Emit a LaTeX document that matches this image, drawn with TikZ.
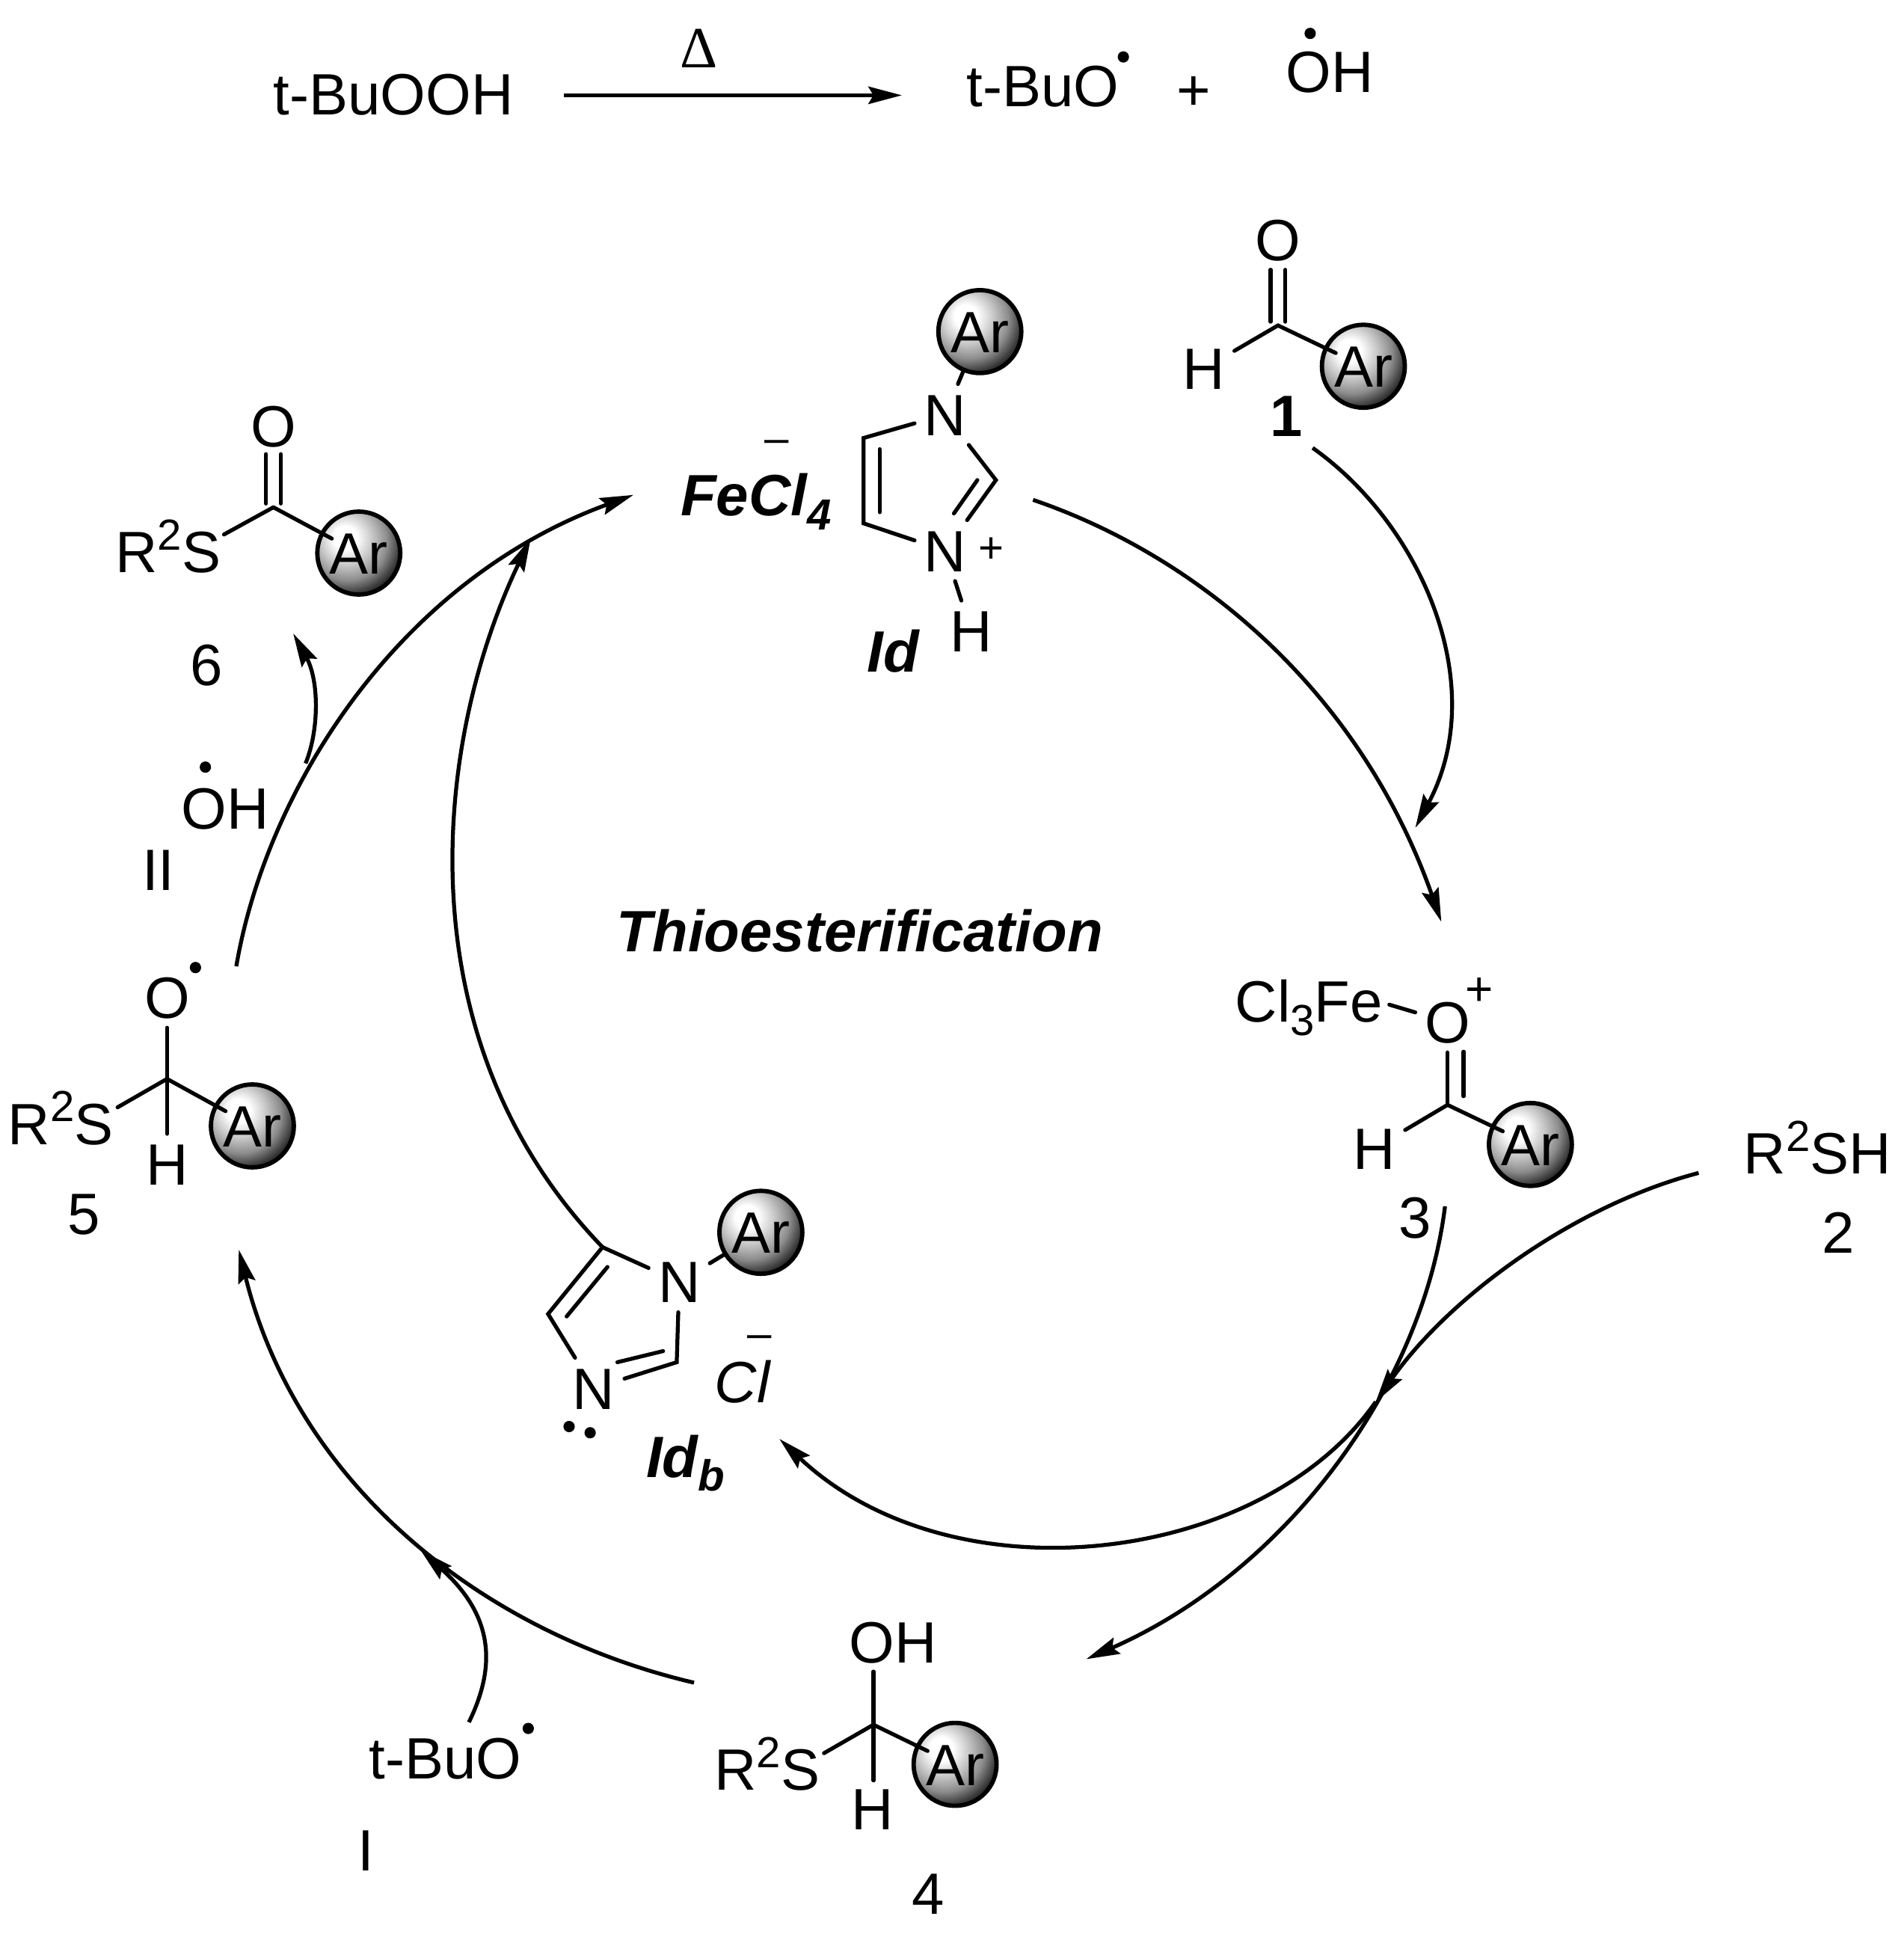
\documentclass[tikz,border=0pt]{standalone}
\usepackage{fontspec}
\setmainfont{Liberation Sans}
\newfontfamily\deltafont{Liberation Serif}
\usetikzlibrary{arrows.meta}
\newcommand{\supnum}[1]{\raisebox{5.2pt}{\fontsize{10}{10}\selectfont #1}}
\newcommand{\subnum}[1]{\raisebox{-3.2pt}{\fontsize{10}{10}\selectfont #1}}
\pgfdeclareradialshading{arshade}{\pgfpoint{-9bp}{10bp}}{
  color(0bp)=(white); color(7bp)=(white); color(15bp)=(gray!40); color(24bp)=(gray!90);
  color(31bp)=(gray!45!black); color(37bp)=(black); color(100bp)=(black)}
\tikzset{
  atom/.style={inner sep=2pt, text height=9.6pt, text depth=0pt, font=\fontsize{13.4}{15}\selectfont},
  tag/.style={atom, font=\fontsize{13.4}{15}\selectfont\bfseries\itshape},
  charge/.style={atom, font=\fontsize{10}{12}\selectfont},
  minuscharge/.style={charge, inner sep=0pt, text height=3pt},
  arball/.style={atom, circle, inner sep=0pt, minimum size=0.67cm, draw, line width=1pt, shading=arshade},
  raddot/.style={circle, fill, inner sep=0pt, minimum size=2.6pt},
  bond/.style={line width=0.9pt, line cap=round},
  arbond/.style={bond, shorten >=-3pt},
  rxn/.style={line width=0.9pt, -{Stealth[length=0.27cm, width=0.14cm, inset=0.04cm]}},
}
\begin{document}
\begin{tikzpicture}[x=0.01cm, y=-0.01cm]
  \useasboundingbox (0,0) rectangle (1539,1568);

  % top line
  \node[atom] (tbuooh) at (318,76) {t-BuOOH};
  \node[atom, font=\fontsize{13.4}{15}\selectfont\deltafont] (delta) at (565,38) {Δ};
  \node[atom] (tbuoTop) at (843,69) {t-BuO};
  \node[raddot] (dotTop1) at (908,46) {};
  \node[atom] (plusTop) at (965,72) {+};
  \node[atom] (ohTop) at (1075,58) {OH};
  \node[raddot] (dotTop2) at (1059,27) {};
  \coordinate (arrTopA) at (456,77);
  \coordinate (arrTopB) at (729,77);
  \draw[rxn] (arrTopA) -- (arrTopB);

  % aldehyde 1
  \node[arball] (Ar1) at (1102,296) {Ar};
  \node[atom] (O1) at (1033,194) {O};
  \node[atom] (H1) at (973,298) {H};
  \node[atom, font=\fontsize{13.4}{15}\selectfont\bfseries] (lab1) at (1040,336) {1};
  \coordinate (C1) at (1033,263);
  \coordinate (C1a) at (1027,260);
  \coordinate (C1b) at (1039,260);
  \coordinate (O1a) at (1027,218);
  \coordinate (O1b) at (1039,218);
  \draw[bond] (O1a) -- (C1a);
  \draw[bond] (O1b) -- (C1b);
  \draw[bond] (H1) -- (C1);
  \draw[arbond] (C1) -- (Ar1);

  % Id
  \node[arball] (Ar2) at (792,268) {Ar};
  \node[atom] (N2a) at (764,335) {N};
  \node[atom] (N2b) at (764,445) {N};
  \node[charge] (plus2) at (801,438) {+};
  \node[atom] (H2) at (785,510) {H};
  \node[tag] (labId) at (722,526) {Id};
  \node[tag] (feCl) at (611,400) {FeCl\subnum{4}};
  \node[minuscharge] (minus2) at (628,361) {–};
  \coordinate (C2a) at (698,354);
  \coordinate (C2b) at (698,423);
  \coordinate (C2c) at (805,388);
  \coordinate (in2a) at (711,363);
  \coordinate (in2b) at (711,414);
  \coordinate (in2c) at (790,388);
  \coordinate (in2d) at (771,415);
  \draw[bond] (N2a) -- (C2a) -- (C2b) -- (N2b);
  \draw[bond] (N2a) -- (C2c) -- (N2b);
  \draw[bond] (in2a) -- (in2b);
  \draw[bond] (in2c) -- (in2d);
  \draw[bond] (N2a) -- (Ar2);
  \draw[bond] (N2b) -- (H2);

  % thioester 6
  \node[arball] (Ar6) at (290,447) {Ar};
  \node[atom] (O6) at (221,344) {O};
  \node[atom] (rs6) at (136,446) {R\supnum{2}S};
  \node[atom] (lab6) at (167,537) {6};
  \node[atom] (oh6) at (182,653) {OH};
  \node[raddot] (dot6) at (166,620) {};
  \node[atom] (labII) at (128,703) {II};
  \coordinate (C6) at (221,410);
  \coordinate (C6a) at (215,407);
  \coordinate (C6b) at (227,407);
  \coordinate (O6a) at (215,367);
  \coordinate (O6b) at (227,367);
  \coordinate (S6end) at (181,432);
  \draw[bond] (O6a) -- (C6a);
  \draw[bond] (O6b) -- (C6b);
  \draw[bond] (S6end) -- (C6);
  \draw[arbond] (C6) -- (Ar6);

  % alkoxy radical 5
  \node[arball] (Ar5) at (204,910) {Ar};
  \node[atom] (O5) at (135,806) {O};
  \node[raddot] (dot5) at (158,782) {};
  \node[atom] (rs5) at (49,908) {R\supnum{2}S};
  \node[atom] (H5) at (135,941) {H};
  \node[atom] (lab5) at (68,981) {5};
  \coordinate (C5) at (135,872);
  \coordinate (S5end) at (95,895);
  \draw[bond] (O5) -- (C5) -- (H5);
  \draw[bond] (S5end) -- (C5);
  \draw[arbond] (C5) -- (Ar5);

  % centre label
  \node[tag] (title) at (695,752) {Thioesterification};

  % complex 3
  \node[arball] (Ar3) at (1237,925) {Ar};
  \node[atom] (fe3) at (1058,809) {Cl\subnum{3}Fe};
  \node[atom] (O3) at (1170,826) {O};
  \node[charge, font=\fontsize{11}{12}\selectfont] (plus3) at (1196,796) {+};
  \node[atom] (H3) at (1111,928) {H};
  \node[atom] (lab3) at (1144,984) {3};
  \coordinate (C3) at (1170,893);
  \coordinate (O3b) at (1183,850);
  \coordinate (C3b) at (1183,886);
  \coordinate (Fe3end) at (1123,812);
  \draw[bond] (Fe3end) -- (O3);
  \draw[bond] (O3) -- (C3);
  \draw[bond] (O3b) -- (C3b);
  \draw[bond] (H3) -- (C3);
  \draw[arbond] (C3) -- (Ar3);

  % thiol 2
  \node[atom] (rsh2) at (1469,932) {R\supnum{2}SH};
  \node[atom] (lab2) at (1486,996) {2};

  % Idb
  \node[arball] (Ar7) at (615,996) {Ar};
  \node[atom] (N7a) at (549,1036) {N};
  \node[atom] (N7b) at (480,1122) {N};
  \node[atom, font=\fontsize{13.4}{15}\selectfont\itshape] (cl7) at (600,1117) {Cl};
  \node[minuscharge] (minus7) at (614,1084) {–};
  \node[raddot] (dot7a) at (460,1153) {};
  \node[raddot] (dot7b) at (477,1158) {};
  \node[tag] (labIdb) at (554,1177) {Id\subnum{b}};
  \coordinate (C7a) at (487,1008);
  \coordinate (C7b) at (443,1062);
  \coordinate (C7c) at (547,1101);
  \coordinate (in7a) at (491,1024);
  \coordinate (in7b) at (458,1064);
  \coordinate (in7c) at (536,1092);
  \coordinate (in7d) at (499,1101);
  \draw[bond] (N7a) -- (C7a) -- (C7b) -- (N7b);
  \draw[bond] (N7a) -- (C7c) -- (N7b);
  \draw[bond] (in7a) -- (in7b);
  \draw[bond] (in7c) -- (in7d);
  \draw[bond] (N7a) -- (Ar7);

  % hemithioacetal 4
  \node[arball] (Ar4) at (772,1426) {Ar};
  \node[atom] (oh4) at (722,1327) {OH};
  \node[atom] (rs4) at (620,1430) {R\supnum{2}S};
  \node[atom] (H4) at (705,1462) {H};
  \node[atom] (lab4) at (750,1530) {4};
  \node[atom] (tbuo4) at (360,1421) {t-BuO};
  \node[raddot] (dot4) at (427,1397) {};
  \node[atom] (labI) at (296,1495) {I};
  \coordinate (C4) at (706,1394);
  \coordinate (C4t) at (706,1351);
  \coordinate (C4h) at (706,1439);
  \coordinate (S4end) at (666,1417);
  \draw[bond] (C4t) -- (C4) -- (C4h);
  \draw[bond] (S4end) -- (C4);
  \draw[arbond] (C4) -- (Ar4);

  % cycle arrows
  \coordinate (arr1a) at (1061,362);
  \coordinate (arr1b) at (1144,669);
  \coordinate (arrIda) at (835,404);
  \coordinate (arrIdb) at (1165,745);
  \coordinate (arr3a) at (1168,975);
  \coordinate (arr3b) at (878,1341);
  \coordinate (arr2a) at (1373,948);
  \coordinate (arrMeet) at (1112,1133);
  \coordinate (arrBack) at (630,1163);
  \coordinate (arr4a) at (561,1360);
  \coordinate (arr4b) at (193,1010);
  \coordinate (arrTa) at (379,1392);
  \coordinate (arrTb) at (340,1253);
  \coordinate (arr5a) at (191,781);
  \coordinate (arr5b) at (512,400);
  \coordinate (arr6a) at (247,617);
  \coordinate (arr6b) at (237,512);
  \coordinate (arr7b) at (429,435);

  \draw[rxn] (arr1a) .. controls (1150,425) and (1205,555) .. (arr1b);
  \draw[rxn] (arrIda) .. controls (970,450) and (1100,560) .. (arrIdb);
  \draw[rxn] (arr3a) .. controls (1150,1120) and (1040,1270) .. (arr3b);
  \draw[rxn] (arr2a) .. controls (1270,975) and (1170,1050) .. (arrMeet);
  \draw[rxn] (arrMeet) .. controls (1020,1265) and (770,1295) .. (arrBack);
  \draw[rxn] (arr4a) .. controls (390,1320) and (240,1200) .. (arr4b);
  \draw[rxn] (arrTa) .. controls (402,1345) and (398,1305) .. (arrTb);
  \draw[rxn] (arr5a) .. controls (215,640) and (320,470) .. (arr5b);
  \draw[rxn] (arr6a) .. controls (258,590) and (258,550) .. (arr6b);
  \draw[rxn] (C7a) .. controls (325,840) and (350,600) .. (arr7b);
\end{tikzpicture}
\end{document}
